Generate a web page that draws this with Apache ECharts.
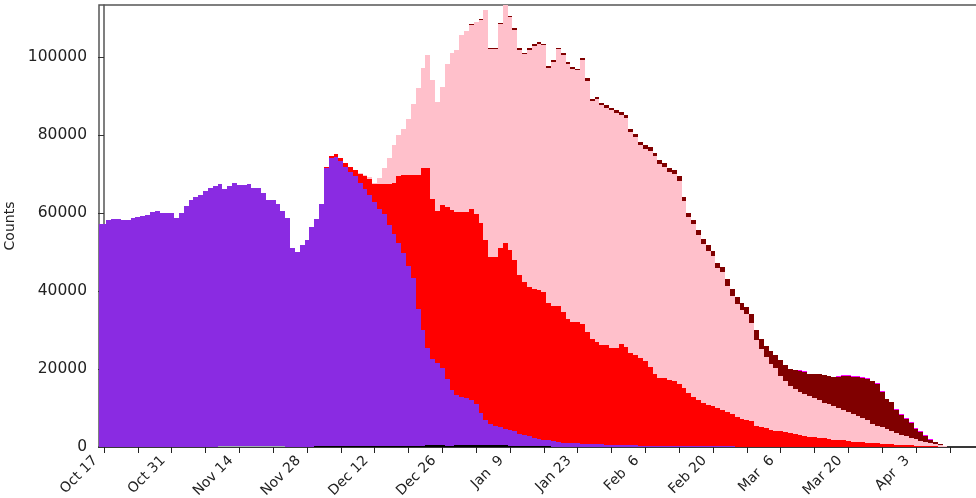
<!DOCTYPE html>
<html>
<head>
<meta charset="utf-8">
<script src="https://cdn.jsdelivr.net/npm/echarts@6/dist/echarts.min.js"></script>
<style>
  html, body { margin: 0; padding: 0; background: #ffffff; }
  #chart { width: 976px; height: 498px; }
</style>
</head>
<body>
<div id="chart"></div>
<script>
// Daily counts, stacked. Day numbers count from Oct 17 (day 0); the first bar is Oct 16 (day -1).
const firstDay = -1;
const lastDay = 175;

// Date tick labels every two weeks, minor ticks every week.
const tickLabels = ['Oct 17', 'Oct 31', 'Nov 14', 'Nov 28', 'Dec 12', 'Dec 26', 'Jan  9',
                    'Jan 23', 'Feb  6', 'Feb 20', 'Mar  6', 'Mar 20', 'Apr  3'];
const labelDays = [0, 14, 28, 42, 56, 70, 84, 98, 112, 126, 140, 154, 168];
const tickDays = [0, 7, 14, 21, 28, 35, 42, 49, 56, 63, 70, 77, 84, 91, 98, 105, 112, 119,
                  126, 133, 140, 147, 154, 161, 168, 175];
const countTicks = [0, 20000, 40000, 60000, 80000, 100000];

// Small bottom layers
const blackFrom = 44;
const black = [250, 250, 250, 250, 250, 250, 250, 250, 250, 250, 250, 250, 250,
               300, 300, 300, 300, 300, 300, 300, 300, 300, 300,
               450, 450, 450, 450, 300, 300,
               450, 450, 450, 450, 450, 450, 450, 450, 450, 450, 450,
               300, 300, 300, 300, 300, 150, 150, 150, 150];
const grayFrom = 24;
const gray = [200, 200, 200, 200, 200, 200, 200, 200, 200, 200, 200, 200, 200, 200];

// Purple layer, days -1 .. 175
const purpleFrom = -1;
const purple = [57200, 57200, 58200, 58500, 58500, 58100, 58100, 58700, 58900, 59200, 59500, 60200, 60500,
  59900, 59900, 59900, 58800, 60000, 61900, 63200, 64000, 64700, 65500, 66400, 66800,
  67100, 65900, 66700, 67600, 67000, 67000, 67100, 66200, 66100, 64800, 63000, 63200, 62200, 60400,
  58800, 51000, 50100, 51800, 53000, 56400,
  58250, 61950, 71150, 73750, 74050, 73050, 71550, 70350, 69250, 67550, 65850, 64350, 62650,
  60600, 59500, 56700, 54200, 52000, 49500, 46200, 42900, 35200, 29700,
  25050, 22050, 21050, 19850, 17200, 14200,
  12850, 12350, 12050, 11550, 10550, 8150, 6450, 5350, 4850, 4650, 4250,
  4000, 3700, 3100, 2700, 2400, 2250, 1950, 1750, 1550,
  1500, 1300, 1150, 1050, 950, 900, 850, 800, 750, 700, 650, 600, 550, 500, 480, 450, 420, 400,
  380, 350, 330, 310, 300, 280, 260, 250, 240, 230,
  220, 210, 200, 190, 180, 170, 160, 150, 140, 130,
  120, 110, 100, 100, 90, 90, 80, 80, 70, 70,
  50, 50, 50, 50, 50, 50, 50, 50, 50, 50,
  30, 30, 30, 30, 30, 30, 30, 30, 30, 30,
  20, 20, 20, 20, 20, 20, 20, 20, 20, 20,
  0, 0, 0, 0, 0];

// Red layer, days 45 .. 175
const redFrom = 45;
const red = [200, 400, 500, 800, 900, 900, 1200, 1400, 2300, 3300, 4200, 4600,
  6600, 7700, 10500, 13300, 17200, 19800, 23100, 26500, 34300, 41400, 45900,
  41000, 39000, 41700, 44000, 46200, 47000, 47500, 47800, 48900, 48800, 48700, 46100,
  42800, 43300, 46000, 47600, 46100, 43900, 40600, 39300, 38300, 38200, 38100, 37800,
  35100, 34600, 34800, 33450, 31850, 31150, 31200, 30750, 28700, 27050, 26200, 25450,
  25500, 24950, 25000, 25820, 25150, 23680, 23100, 22320, 21750, 20170, 18290, 17500,
  17520, 16840, 16650, 15960, 14770, 13680, 12590, 11800, 11110, 10520, 10230, 9940,
  9450, 8860, 8270, 7580, 7090, 6900, 6500, 5310, 5010, 4720, 4320, 4130,
  3930, 3750, 3550, 3250, 2950, 2750, 2550, 2450, 2350, 2150, 1950, 1870,
  1770, 1670, 1470, 1370, 1270, 1170, 1070, 970, 870, 830, 780, 680,
  580, 530, 430, 380, 330, 280, 230, 200, 150, 100, 80, 50];

// Pink layer, days 53 .. 175
const pinkFrom = 53;
const pink = [200, 300, 300, 300, 1500, 4000, 6500, 9700, 10500, 11900, 14400, 18300,
  22200, 25800, 29000, 30500, 28000, 30200, 36800, 40200, 41400, 45300, 46400, 47200,
  49050, 52150, 58950, 53450, 53450, 57300, 61200, 59800, 59100, 57850, 58500, 60850,
  62300, 63200, 63400, 60400, 62650, 65800, 66000, 65400, 64900, 64500, 67600, 64400,
  60900, 62200, 61500, 60800, 60800, 60100, 58800, 58700, 56600, 56000, 54600, 54400,
  55500, 55900, 54800, 54000, 53400, 53100, 52100, 48000, 45000, 44400, 42300, 40700,
  39600, 38500, 35700, 35200, 32200, 30200, 29000, 28000, 27200, 25100, 21900, 19900,
  18200, 17000, 16000, 14300, 13000, 12000, 11500, 11200, 10800, 10400, 10000, 9600,
  9200, 8900, 8500, 8200, 7800, 7500, 7100, 6700, 6300, 5900, 5000, 4600,
  4150, 3700, 3300, 3000, 2550, 2250, 1900, 1650, 1300, 1050, 800, 550,
  300, 120, 0];

// Dark red layer, days 76 .. 175
const darkRedFrom = 76;
const darkRed = [300, 150, 150, 150, 150, 150,
  300, 300, 300, 300, 300, 300, 300, 300, 300, 300,
  400, 400, 400, 400, 400, 400, 400,
  600, 600, 600, 600, 600,
  700, 700, 700, 700, 700, 700, 700,
  900, 900, 900, 900, 900, 900,
  1100, 1100, 1100, 1100, 1100, 1100,
  1400, 1400, 1400, 1400, 1400, 1400,
  1800, 1800, 1800, 1800, 1800,
  2500, 2700, 2800, 2900, 3100, 3300,
  3900, 4200, 4500, 5000, 5300, 5600, 5800, 6100, 6800, 7150, 7400, 7550,
  7950, 8600, 9200, 9450, 9950, 10300, 10500, 10900, 10740, 9100, 7900, 7500,
  5800, 5000, 4600, 3900, 2700, 2250, 1450, 900, 600, 300, 100, 50];

// Magenta layer on top, days 143 .. 171
const magentaFrom = 143;
const magenta = [0, 250, 250, 0, 0, 0, 0, 0, 0, 250, 250, 250, 250, 250, 250, 250,
  0, 200, 200, 0, 0, 250, 250, 250, 250, 250, 250, 250, 200];

const layers = [
  { name: 'black', from: blackFrom, values: black, color: '#000000' },
  { name: 'gray', from: grayFrom, values: gray, color: '#9fb3ad' },
  { name: 'purple', from: purpleFrom, values: purple, color: '#8a2be2' },
  { name: 'red', from: redFrom, values: red, color: '#ff0000' },
  { name: 'pink', from: pinkFrom, values: pink, color: '#ffc0cb' },
  { name: 'darkred', from: darkRedFrom, values: darkRed, color: '#800000' },
  { name: 'magenta', from: magentaFrom, values: magenta, color: '#ff00ff' }
];

// Pixel scale of the date axis: 4.8333 px per day, plot starts at x = 99
const xMin = -1.035;
const xMax = 181;
const pxPerDay = 812 / 168;

// Each bar spans one day centred on its date; edges are snapped to whole pixels
// so neighbouring bars and stacked layers meet without seams.
function makeRenderer(color) {
  return function (params, api) {
    const d = api.value(0);
    const p0 = api.coord([d - 0.5, api.value(1)]);
    const p1 = api.coord([d + 0.5, api.value(2)]);
    const cs = params.coordSys;
    const x0 = Math.round(p0[0]);
    const x1 = Math.round(p1[0]);
    const yTop = Math.round(p1[1]);
    const yBot = Math.round(p0[1]);
    if (yBot - yTop <= 0) return;
    const shape = echarts.graphic.clipRectByRect(
      { x: x0, y: yTop, width: x1 - x0, height: yBot - yTop },
      { x: cs.x, y: cs.y, width: cs.width, height: cs.height }
    );
    if (!shape) return;
    return {
      type: 'rect',
      shape: shape,
      style: { fill: color }
    };
  };
}

const stackTop = new Array(lastDay - firstDay + 1).fill(0);
const series = layers.map(function (layer) {
  const data = [];
  layer.values.forEach(function (v, i) {
    const day = layer.from + i;
    const k = day - firstDay;
    const lo = stackTop[k];
    const hi = lo + v;
    stackTop[k] = hi;
    if (v > 0) data.push([day, lo, hi]);
  });
  return {
    type: 'custom',
    name: layer.name,
    renderItem: makeRenderer(layer.color),
    data: data,
    encode: { x: 0, y: [1, 2] },
    silent: true,
    animation: false
  };
});

const font = 'DejaVu Sans';
const chart = echarts.init(document.getElementById('chart'), null, { renderer: 'canvas' });
chart.setOption({
  animation: false,
  backgroundColor: '#ffffff',
  grid: {
    left: 99,
    top: 5,
    width: (xMax - xMin) * pxPerDay,
    height: 442,
    containLabel: false,
    outerBoundsMode: 'none',
    show: true,
    borderColor: '#555555',
    borderWidth: 1.5,
    backgroundColor: 'transparent'
  },
  xAxis: {
    type: 'value',
    min: xMin,
    max: xMax,
    axisLine: { show: true, onZero: false, lineStyle: { color: '#222222', width: 1.5 } },
    axisTick: { show: true, length: 6, customValues: tickDays, lineStyle: { color: '#222222', width: 1 } },
    axisLabel: {
      show: true,
      customValues: labelDays,
      rotate: 45,
      margin: 3,
      padding: [0, 12, 0, 0],
      fontSize: 14,
      fontFamily: font,
      color: '#222222',
      formatter: function (v) { return tickLabels[Math.round(v / 14)]; }
    },
    splitLine: { show: false }
  },
  yAxis: {
    type: 'value',
    min: 0,
    max: 113300,
    name: 'Counts',
    nameLocation: 'middle',
    nameGap: 68,
    nameTextStyle: { fontSize: 14, fontFamily: font, color: '#222222' },
    axisLine: { show: true, lineStyle: { color: '#555555', width: 1.5 } },
    axisTick: { show: true, length: 6, customValues: countTicks, lineStyle: { color: '#333333', width: 1 } },
    axisLabel: {
      show: true,
      customValues: countTicks,
      margin: 12,
      fontSize: 15.5,
      fontFamily: font,
      color: '#222222',
      formatter: function (v) { return String(v); }
    },
    splitLine: { show: false }
  },
  series: series
});
</script>
</body>
</html>
